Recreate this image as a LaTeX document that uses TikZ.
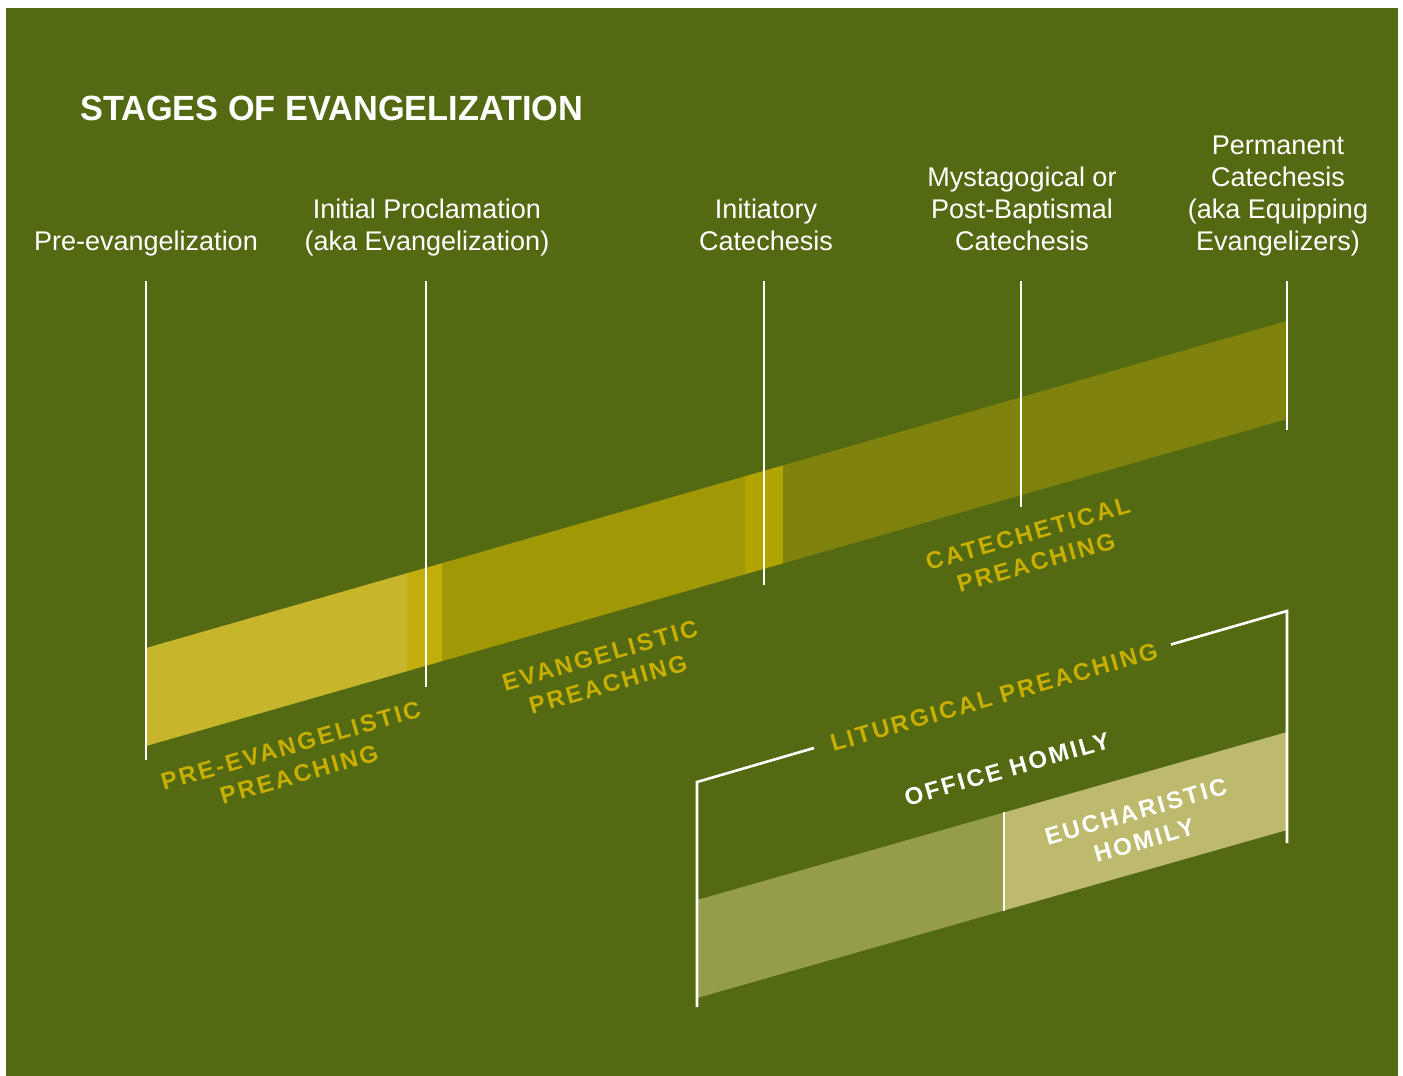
\documentclass[tikz,border=0pt]{standalone}
\usepackage{fontspec}
\setmainfont{Liberation Sans}
\newfontfamily\titlefont[FakeStretch=0.98]{Liberation Sans}
\newfontfamily\labfont[LetterSpace=10]{Liberation Sans}
\definecolor{bggreen}{HTML}{546A12}
\definecolor{segA}{HTML}{C7B52B}
\definecolor{ovA}{HTML}{C2AE0A}
\definecolor{segB}{HTML}{A09804}
\definecolor{ovB}{HTML}{B2A400}
\definecolor{segC}{HTML}{7F830E}
\definecolor{lowL}{HTML}{969D4A}
\definecolor{lowR}{HTML}{BDBA6E}
\definecolor{labyellow}{HTML}{C8AE00}
\begin{document}
\begin{tikzpicture}[x=1pt,y=-1pt,
  stagetxt/.style={font=\fontsize{27}{32}\selectfont, text=white, align=center, anchor=south, text depth=0pt, inner sep=0pt},
  preach/.style={font={\labfont\bfseries\fontsize{24}{30}\selectfont}, text=labyellow, align=center, rotate=16, inner sep=0pt},
  homily/.style={preach, text=white},
  wline/.style={draw=white, line width=2.6pt}]
\useasboundingbox (0,0) rectangle (1403,1076);
\fill[white] (0,0) rectangle (1403,1076);
\fill[bggreen] (6,8) rectangle (1398,1076);

% main band
\fill[segA] (146,648) -- (407,573.2) -- (407,671.2) -- (146,746) -- cycle;
\fill[ovA] (407,573.2) -- (442,563.2) -- (442,661.2) -- (407,671.2) -- cycle;
\fill[segB] (442,563.2) -- (745,476.3) -- (745,574.3) -- (442,661.2) -- cycle;
\fill[ovB] (745,476.3) -- (783,465.4) -- (783,563.4) -- (745,574.3) -- cycle;
\fill[segC] (783,465.4) -- (1287,321) -- (1287,419) -- (783,563.4) -- cycle;

% lower band
\fill[lowL] (697,900) -- (1004,812.5) -- (1004,910.5) -- (697,998) -- cycle;
\fill[lowR] (1004,812.5) -- (1287,732) -- (1287,830) -- (1004,910.5) -- cycle;

% title
\node[anchor=base west, inner sep=0pt, text=white, font={\titlefont\bfseries\fontsize{35}{40}\selectfont}] (title) at (80,120) {STAGES OF EVANGELIZATION};

% stage labels
\node[stagetxt] (s1) at (146,251) {Pre-evangelization};
\node[stagetxt] (s2) at (427,251) {Initial Proclamation\\(aka Evangelization)};
\node[stagetxt] (s3) at (766,251) {Initiatory\\Catechesis};
\node[stagetxt] (s4) at (1022,251) {Mystagogical or\\Post-Baptismal\\Catechesis};
\node[stagetxt] (s5) at (1278,251) {Permanent\\Catechesis\\(aka Equipping\\Evangelizers)};

% stage lines
\coordinate (t1) at (146,281); \coordinate (b1) at (146,760);
\coordinate (t2) at (426,281); \coordinate (b2) at (426,687);
\coordinate (t3) at (764,281); \coordinate (b3) at (764,585);
\coordinate (t4) at (1021,281); \coordinate (b4) at (1021,507);
\coordinate (t5) at (1287,281); \coordinate (b5) at (1287,430);
\draw[wline] (t1) -- (b1);
\draw[wline] (t2) -- (b2);
\draw[wline] (t3) -- (b3);
\draw[wline] (t4) -- (b4);
\draw[wline] (t5) -- (b5);

% liturgical bracket
\coordinate (lb) at (697,1007);
\coordinate (lt) at (697,782);
\coordinate (lm) at (814,748);
\coordinate (rm) at (1171,644.5);
\coordinate (rt) at (1287,611);
\coordinate (rb) at (1287,843);
\draw[wline, line join=miter] (lb) -- (lt) -- (lm);
\draw[wline, line join=miter] (rm) -- (rt) -- (rb);
\coordinate (st) at (1004,812);
\coordinate (sb) at (1004,911);
\draw[wline] (st) -- (sb);

% rotated labels
\node[preach] (p1) at (295,760) {PRE-EVANGELISTIC\\PREACHING};
\node[preach] (p2) at (604,670) {EVANGELISTIC\\PREACHING};
\node[preach] (p3) at (1032,548) {CATECHETICAL\\PREACHING};
\node[preach] (p4) at (994,697) {LITURGICAL PREACHING};
\node[homily] (h1) at (1007,769) {OFFICE HOMILY};
\node[homily] (h2) at (1140,826) {EUCHARISTIC\\HOMILY};
\end{tikzpicture}
\end{document}
